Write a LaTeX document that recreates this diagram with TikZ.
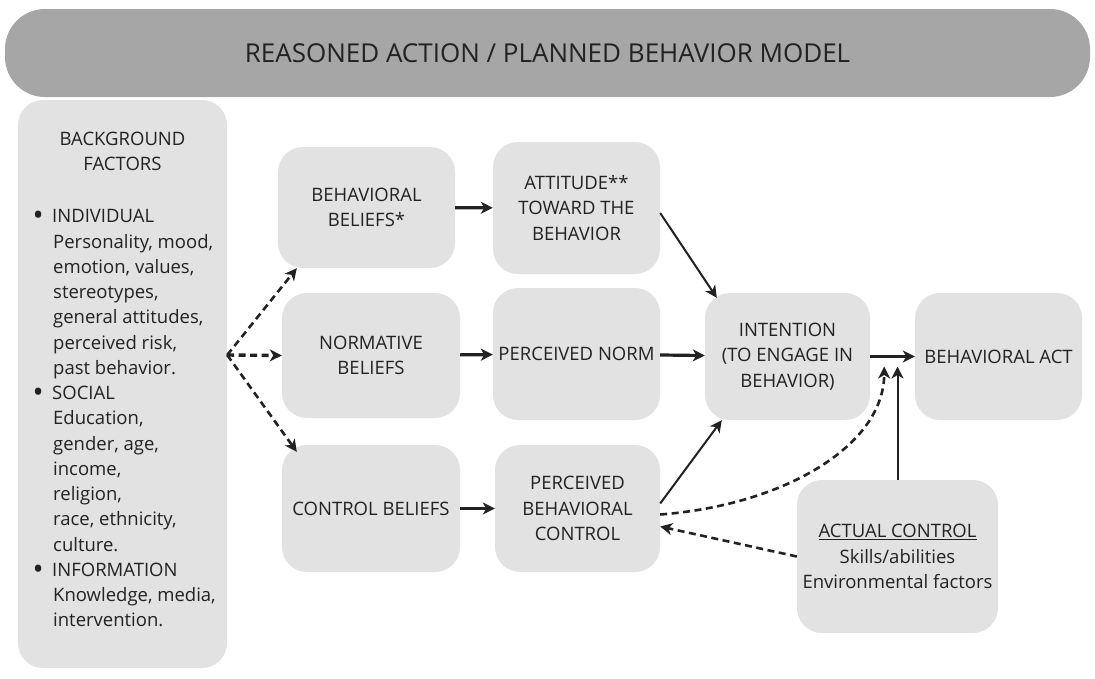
\documentclass[tikz,border=0pt]{standalone}
\usepackage{fontspec}
\setmainfont{Open Sans}
\usetikzlibrary{arrows.meta}

\definecolor{barfill}{HTML}{A6A6A6}
\definecolor{boxfill}{HTML}{E2E2E2}
\definecolor{ink}{HTML}{222222}

\newcommand{\bgbullet}{\makebox[20pt][l]{\hspace{0.5pt}\raisebox{-3pt}{\scalebox{1.6}{\textbullet}}}}
\newcommand{\bgindent}{\hspace*{21pt}}

\tikzset{
  txt/.style={text=ink, inner sep=0pt, font=\fontsize{18.5}{25.25}\selectfont},
  box/.style={txt, fill=boxfill, rounded corners=25pt, align=center},
  arr/.style={draw=ink, line width=2pt, -{Stealth[length=12pt,width=12pt,inset=3.5pt]}},
  fatarr/.style={arr, line width=3.2pt},
  dasharr/.style={arr, line width=2.6pt, dash pattern=on 7pt off 4.5pt},
}

\begin{document}
\begin{tikzpicture}[x=1pt, y=-1pt]

        \useasboundingbox (0,0) rectangle (1095,678);

        % header bar
        \node (title) [fill=barfill, rounded corners=40pt, minimum width=1085pt, minimum height=88pt, inner sep=0pt, text=ink, font=\fontsize{26}{30}\selectfont] at (547.5,53) {REASONED ACTION / PLANNED BEHAVIOR MODEL};

        % background factors column
        \node (bg) [box, minimum width=209pt, minimum height=568pt] at (122.5,384) {};
        \node (bghead) [txt, align=center] at (122.5,151.5) {BACKGROUND\\FACTORS};
        \node (bglist) [txt, align=left, anchor=north west] at (32,209.5) {\bgbullet INDIVIDUAL\\
            \bgindent Personality, mood,\\
            \bgindent emotion, values,\\
            \bgindent stereotypes,\\
            \bgindent general attitudes,\\
            \bgindent perceived risk,\\
            \bgindent past behavior.\\
            \bgbullet SOCIAL\\
            \bgindent Education,\\
            \bgindent gender, age,\\
            \bgindent income,\\
            \bgindent religion,\\
            \bgindent race, ethnicity,\\
            \bgindent culture.\\
            \bgbullet INFORMATION\\
            \bgindent Knowledge, media,\\
            \bgindent intervention.};

        % beliefs and their outcomes
        \node (bb) [box, minimum width=177pt, minimum height=121pt] at (366.5,207.5) {BEHAVIORAL\\BELIEFS*};
        \node (att) [box, minimum width=167pt, minimum height=132pt] at (576.5,208) {ATTITUDE**\\TOWARD THE\\BEHAVIOR};
        \node (nb) [box, minimum width=178pt, minimum height=125pt] at (371,355.5) {NORMATIVE\\BELIEFS};
        \node (pn) [box, minimum width=167pt, minimum height=132pt] at (576.5,354) {PERCEIVED NORM};
        \node (cb) [box, minimum width=178pt, minimum height=127pt] at (371,508.5) {CONTROL BELIEFS};
        \node (pbc) [box, minimum width=165pt, minimum height=127pt] at (577.5,508.5) {PERCEIVED\\BEHAVIORAL\\CONTROL};

        % intention, act and actual control
        \node (int) [box, minimum width=165pt, minimum height=127pt] at (787.5,356.5) {INTENTION\\(TO ENGAGE IN\\BEHAVIOR)};
        \node (act) [box, minimum width=167pt, minimum height=127pt] at (998.5,356.5) {BEHAVIORAL ACT};
        \node (ac) [box, minimum width=201pt, minimum height=153pt] at (897.5,556.5) {\underline{ACTUAL CONTROL}\\Skills/abilities\\Environmental factors};

        \coordinate (fan) at ([yshift=29pt]bg.east);
        \coordinate (tipc) at ([xshift=14pt,yshift=-10pt]int.east);
        \coordinate (tipa) at ([xshift=27pt,yshift=-10pt]int.east);

        % dashed fan out of the background factors
        \draw[dasharr] (fan) -- ([xshift=19pt]bb.south west);
        \draw[dasharr, line width=3.4pt] (fan) -- (nb.west);
        \draw[dasharr] (fan) -- ([xshift=15pt,yshift=-7pt]cb.north west);

        \draw[fatarr] (bb) -- (att);
        \draw[fatarr] (nb) -- (pn);
        \draw[fatarr] (pn) -- (int);
        \draw[fatarr] (cb) -- (pbc);
        \draw[arr, line width=2.6pt] (int) -- (act);

        \draw[arr] ([yshift=-5pt]att.east) -- ([xshift=12pt,yshift=-5pt]int.north west);
        \draw[arr] ([yshift=5pt]pbc.east) -- ([xshift=17pt]int.south west);
        \draw[dasharr] ([yshift=-6pt]pbc.east) .. controls (785,505) and (884,445) .. (tipc);
        \draw[arr] (ac.north) -- (ac.north |- tipa);
        \draw[dasharr] (ac.west) -- ([yshift=-18pt]pbc.east);

\end{tikzpicture}
\end{document}
